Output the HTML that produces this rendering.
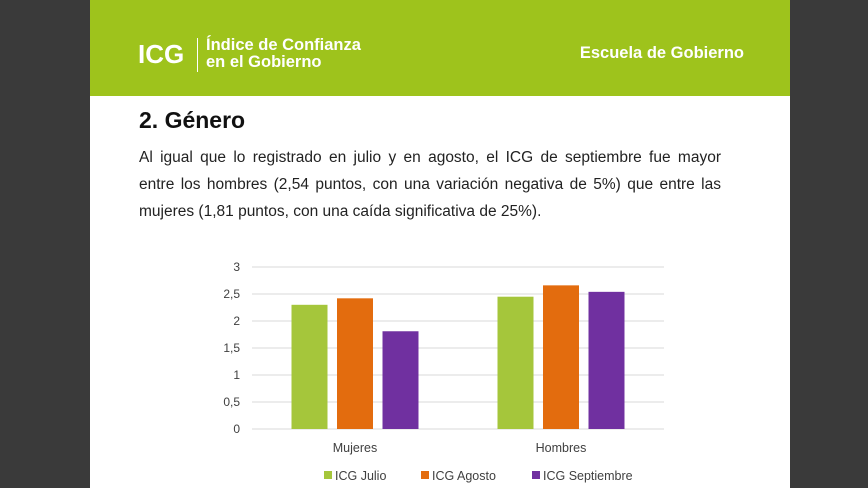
<!DOCTYPE html>
<html><head><meta charset="utf-8"><style>
body{margin:0;width:868px;height:488px;background:#3a3a3a;overflow:hidden;font-family:"Liberation Sans",sans-serif;}
.slide{position:absolute;left:90px;top:0;width:700px;height:488px;background:#fff;}
.header{position:absolute;left:0;top:0;width:700px;height:96px;background:#9ec31c;}
.logo{position:absolute;left:48px;top:39px;color:#fff;font-weight:bold;font-size:26px;}
.sep{position:absolute;left:107px;top:38px;width:1px;height:34px;background:#fff;}
.sub{position:absolute;left:116px;top:37px;color:#fff;font-weight:bold;font-size:16.5px;line-height:17px;}
.esc{position:absolute;right:46px;top:44px;color:#fff;font-weight:bold;font-size:16.5px;}
h2{position:absolute;left:49px;top:107px;margin:0;font-size:23px;font-weight:bold;color:#111;}
.p{position:absolute;left:49px;width:582px;margin:0;font-size:15.5px;line-height:27px;color:#222;white-space:nowrap;}
.j{text-align:justify;text-align-last:justify;white-space:normal;}
</style></head><body>
<div class="slide">
<div class="header">
<div class="logo">ICG</div>
<div class="sep"></div>
<div class="sub">Índice de Confianza<br>en el Gobierno</div>
<div class="esc">Escuela de Gobierno</div>
</div>
<h2>2. Género</h2>
<div>
<div class="p j" style="top:144px">Al igual que lo registrado en julio y en agosto, el ICG de septiembre fue mayor</div>
<div class="p j" style="top:171px">entre los hombres (2,54 puntos, con una variación negativa de 5%) que entre las</div>
<div class="p" style="top:198px">mujeres (1,81 puntos, con una caída significativa de 25%).</div>
</div>
</div>
<svg id="chart" width="868" height="488" style="position:absolute;left:0;top:0"></svg>
<script>
const categories=["Mujeres","Hombres"];
const seriesNames=["ICG Julio","ICG Agosto","ICG Septiembre"];
const julio=[2.30,2.45];
const agosto=[2.42,2.66];
const septiembre=[1.81,2.54];
const yTicks=[0,0.5,1,1.5,2,2.5,3];
const yLabels=["0","0,5","1","1,5","2","2,5","3"];
const colors=["#a5c63b","#e36c0e","#7030a0"];
const svg=document.getElementById('chart');
const NS="http://www.w3.org/2000/svg";
const x0=252,x1=664,yBase=429,yTop=267,yMax=3;
function y(v){return yBase-(v/yMax)*(yBase-yTop);}
function cx(i){const w=(x1-x0)/categories.length;return x0+w*(i+0.5);}
function mk(t,a){const e=document.createElementNS(NS,t);for(const k in a)e.setAttribute(k,a[k]);svg.appendChild(e);return e;}
const font='"Liberation Sans",sans-serif';
yTicks.forEach((t,i)=>{
 const l=mk('line',{x1:x0,x2:x1,y1:y(t),y2:y(t),stroke:'#d9d9d9','stroke-width':1});
 
 
 const tx=mk('text',{x:240,y:y(t)+4,'text-anchor':'end','font-size':12,fill:'#404040','font-family':font});
 tx.textContent=yLabels[i];
 
 
});
const series=[julio,agosto,septiembre];
const bw=36,step=45.5;
categories.forEach((c,i)=>{
 series.forEach((s,j)=>{
  const bx=cx(i)+(j-1)*step-bw/2;
  const r=mk('rect',{x:bx,y:y(s[i]),width:bw,height:yBase-y(s[i]),fill:colors[j]});
  
  
 });
 const t=mk('text',{x:cx(i),y:452,'text-anchor':'middle','font-size':12.5,fill:'#404040','font-family':font});
 t.textContent=c;
 
 
});
const lx=[324,421,532];
seriesNames.forEach((n,j)=>{
 const r=mk('rect',{x:lx[j],y:471,width:8,height:8,fill:colors[j]});
 
 
 const t=mk('text',{x:lx[j]+11,y:480,'font-size':12.5,fill:'#404040','font-family':font});
 t.textContent=n;
 
 
});
</script>
</body></html>
